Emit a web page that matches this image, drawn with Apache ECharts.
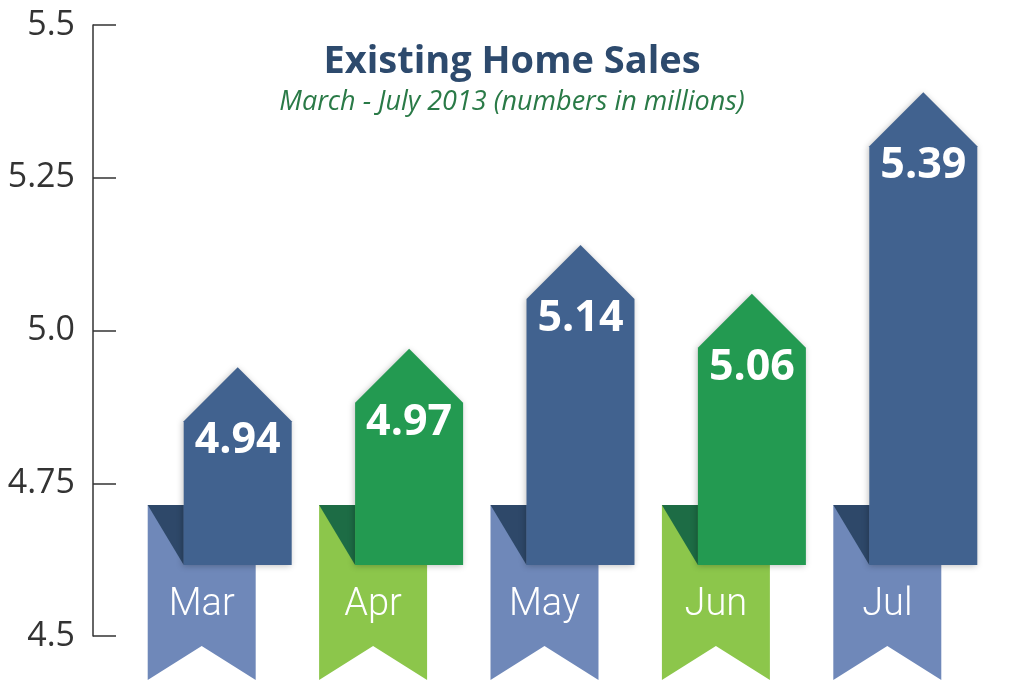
<!DOCTYPE html>
<html>
<head>
<meta charset="utf-8">
<title>Existing Home Sales</title>
<script src="https://cdn.jsdelivr.net/npm/echarts@6/dist/echarts.min.js"></script>
<style>
  html, body { margin: 0; padding: 0; background: #fff; }
  #chart { width: 1024px; height: 697px; }
</style>
</head>
<body>
<div id="chart"></div>
<script>
// data
var months = ['Mar', 'Apr', 'May', 'Jun', 'Jul'];
var sales = [4.94, 4.97, 5.14, 5.06, 5.39];
var yTicks = [4.5, 4.75, 5.0, 5.25, 5.5];
var yTickLabels = ['4.5', '4.75', '5.0', '5.25', '5.5'];

// colour sets: body, fold, ribbon
var blueSet = { body: '#41628f', fold: '#2e4869', ribbon: '#6f88b9' };
var greenSet = { body: '#239a51', fold: '#1d6c45', ribbon: '#8cc64b' };
var palette = [blueSet, greenSet, blueSet, greenSet, blueSet];

var myChart = echarts.init(document.getElementById('chart'));

function renderArrow(params, api) {
  var idx = api.value(0);
  var val = api.value(1);
  var tip = api.coord([idx, val]);
  var base = api.coord([idx, 4.5]);
  var band = api.size([1, 0])[0];
  var w = band * 0.63;
  var half = w / 2;
  var cx = tip[0];
  var x0 = cx - half, x1 = cx + half;
  var shoulder = tip[1] + half;
  var bodyBottom = base[1] - 71;
  var shift = 36;
  var rx0 = x0 - shift, rx1 = x1 - shift;
  var rTop = base[1] - 131;
  var rBottom = base[1] + 44;
  var notch = base[1] + 10;
  var c = palette[idx];

  return {
    type: 'group',
    children: [
      {
        type: 'polygon',
        shape: { points: [[rx0, rTop], [rx1, rTop], [rx1, rBottom], [(rx0 + rx1) / 2, notch], [rx0, rBottom]] },
        style: { fill: c.ribbon }
      },
      {
        type: 'polygon',
        shape: { points: [[rx0, rTop], [x0, rTop], [x0, bodyBottom]] },
        style: { fill: c.fold }
      },
      {
        type: 'polygon',
        shape: { points: [[x0, bodyBottom], [x0, shoulder], [cx, tip[1]], [x1, shoulder], [x1, bodyBottom]] },
        style: { fill: c.body, shadowBlur: 6, shadowColor: 'rgba(0,0,0,0.25)', shadowOffsetX: -1, shadowOffsetY: 1 }
      },
      {
        type: 'text',
        style: {
          x: cx, y: shoulder + 20,
          text: val.toFixed(2),
          fill: '#fff',
          font: 'bold 43px "Open Sans", sans-serif',
          align: 'center', verticalAlign: 'middle'
        }
      },
      {
        type: 'text',
        style: {
          x: (rx0 + rx1) / 2, y: base[1] - 31,
          text: months[idx],
          fill: '#fff',
          font: '300 38px Roboto, "Open Sans", sans-serif',
          align: 'center', verticalAlign: 'middle'
        }
      }
    ]
  };
}

var option = {
  animation: false,
  backgroundColor: '#ffffff',
  title: {
    left: 'center',
    top: 38,
    text: 'Existing Home Sales',
    subtext: 'March - July 2013 (numbers in millions)',
    itemGap: 8,
    textStyle: { fontFamily: '"Open Sans", sans-serif', fontWeight: 'bold', fontSize: 38, color: '#2d4a6d' },
    subtextStyle: { fontFamily: '"Open Sans", sans-serif', fontStyle: 'italic', fontSize: 27, color: '#2a7a47' }
  },
  grid: { left: 152, right: 15, top: 25, bottom: 61 },
  xAxis: {
    type: 'category',
    data: months,
    show: false
  },
  yAxis: {
    type: 'value',
    min: 4.5,
    max: 5.5,
    interval: 0.25,
    offset: 59,
    axisLine: { show: true, lineStyle: { color: '#333', width: 1.5 } },
    axisTick: { show: true, inside: true, length: 23, lineStyle: { color: '#333', width: 1.5 } },
    splitLine: { show: false },
    axisLabel: {
      margin: 18,
      fontSize: 34,
      fontFamily: '"Open Sans", sans-serif',
      color: '#333',
      formatter: function (v) {
        var i = yTicks.indexOf(Math.round(v * 100) / 100);
        return i >= 0 ? yTickLabels[i] : '';
      }
    }
  },
  series: [
    {
      type: 'custom',
      clip: false,
      renderItem: renderArrow,
      data: sales.map(function (v, i) { return [i, v]; })
    }
  ]
};

myChart.setOption(option);
</script>
</body>
</html>
